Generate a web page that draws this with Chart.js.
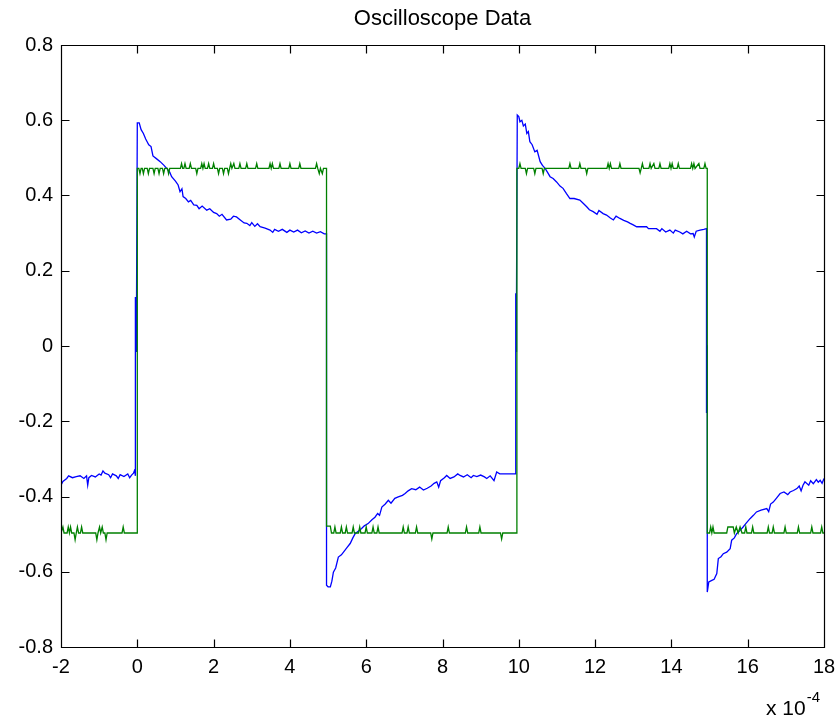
<!DOCTYPE html>
<html>
<head>
<meta charset="utf-8">
<script src="https://cdn.jsdelivr.net/npm/chart.js@4.4.1/dist/chart.umd.min.js"></script>
<style>
html,body{margin:0;padding:0;background:#fff;}
#wrap{width:839px;height:721px;position:relative;}
</style>
</head>
<body>
<div id="wrap"><canvas id="c"></canvas></div>
<script>
const chartTitle = 'Oscilloscope Data';
const xTicks = [-2, 0, 2, 4, 6, 8, 10, 12, 14, 16, 18];
const xTickLabels = ['-2', '0', '2', '4', '6', '8', '10', '12', '14', '16', '18'];
const yTicks = [-0.8, -0.6, -0.4, -0.2, 0, 0.2, 0.4, 0.6, 0.8];
const yTickLabels = ['-0.8', '-0.6', '-0.4', '-0.2', '0', '0.2', '0.4', '0.6', '0.8'];
const xMultiplierText = 'x 10';
const xMultiplierExponent = '-4';

// [time (x 10^-4), volts]
const blueTrace = [
  [-2.00,-0.370],[-1.95,-0.360],[-1.85,-0.352],[-1.80,-0.345],[-1.70,-0.350],[-1.60,-0.347],[-1.50,-0.345],
  [-1.40,-0.352],[-1.33,-0.345],[-1.30,-0.370],[-1.27,-0.350],[-1.20,-0.344],[-1.10,-0.348],[-1.00,-0.340],
  [-0.95,-0.343],[-0.90,-0.332],[-0.85,-0.338],[-0.75,-0.342],[-0.70,-0.350],[-0.65,-0.340],[-0.55,-0.345],
  [-0.50,-0.352],[-0.45,-0.342],[-0.35,-0.347],[-0.25,-0.340],[-0.20,-0.350],[-0.15,-0.343],[-0.10,-0.338],
  [-0.07,-0.330],[-0.05,-0.345],
  [-0.05,-0.016],[-0.05,0.130],[-0.02,-0.016],[-0.02,0.130],[0.00,0.593],
  [0.05,0.593],[0.10,0.575],[0.16,0.565],[0.22,0.550],[0.30,0.535],[0.36,0.530],[0.41,0.505],[0.50,0.498],
  [0.60,0.490],[0.70,0.480],[0.77,0.472],[0.85,0.462],[0.90,0.450],[1.00,0.438],[1.07,0.428],[1.12,0.410],
  [1.17,0.418],[1.20,0.397],[1.27,0.392],[1.34,0.383],[1.40,0.387],[1.48,0.375],[1.56,0.374],[1.62,0.365],
  [1.70,0.372],[1.82,0.361],[1.90,0.365],[2.00,0.355],[2.08,0.352],[2.15,0.345],[2.22,0.350],[2.34,0.335],
  [2.45,0.337],[2.52,0.345],[2.60,0.343],[2.70,0.335],[2.80,0.327],[2.87,0.326],[2.95,0.320],[3.00,0.328],
  [3.08,0.318],[3.15,0.325],[3.22,0.317],[3.35,0.313],[3.48,0.308],[3.55,0.302],[3.60,0.310],[3.70,0.305],
  [3.80,0.310],[3.92,0.302],[4.00,0.308],[4.10,0.303],[4.20,0.308],[4.30,0.301],[4.40,0.306],[4.50,0.300],
  [4.60,0.305],[4.70,0.300],[4.80,0.304],[4.90,0.298],
  [4.96,0.298],[4.96,-0.636],
  [5.00,-0.640],[5.06,-0.640],[5.10,-0.625],[5.14,-0.601],[5.20,-0.590],[5.27,-0.561],[5.35,-0.555],
  [5.44,-0.543],[5.50,-0.535],[5.58,-0.525],[5.65,-0.510],[5.71,-0.499],[5.80,-0.492],[5.88,-0.485],
  [5.95,-0.478],[6.05,-0.472],[6.15,-0.462],[6.23,-0.455],[6.30,-0.445],[6.35,-0.450],[6.41,-0.428],
  [6.50,-0.420],[6.58,-0.410],[6.65,-0.418],[6.75,-0.405],[6.84,-0.401],[6.95,-0.397],[7.02,-0.392],
  [7.10,-0.385],[7.19,-0.379],[7.30,-0.382],[7.40,-0.375],[7.50,-0.383],[7.60,-0.378],[7.70,-0.372],
  [7.78,-0.365],[7.85,-0.361],[7.90,-0.375],[7.95,-0.358],[8.05,-0.350],[8.11,-0.344],[8.20,-0.352],
  [8.30,-0.348],[8.40,-0.340],[8.46,-0.344],[8.55,-0.348],[8.65,-0.342],[8.75,-0.350],[8.81,-0.344],
  [8.90,-0.347],[9.00,-0.343],[9.10,-0.348],[9.16,-0.352],[9.25,-0.345],[9.35,-0.358],[9.42,-0.335],
  [9.50,-0.340],[9.60,-0.340],
  [9.92,-0.340],[9.92,-0.016],[9.92,0.140],[9.94,-0.016],[9.94,0.140],[9.96,0.614],
  [10.00,0.610],[10.03,0.596],[10.08,0.600],[10.12,0.585],[10.17,0.590],[10.21,0.565],[10.25,0.570],
  [10.29,0.543],[10.35,0.535],[10.42,0.516],[10.48,0.520],[10.56,0.490],[10.62,0.480],[10.69,0.472],
  [10.75,0.462],[10.82,0.450],[10.90,0.445],[10.99,0.436],[11.08,0.425],[11.16,0.419],[11.25,0.405],
  [11.34,0.392],[11.45,0.392],[11.60,0.388],[11.70,0.378],[11.78,0.370],[11.85,0.362],[11.95,0.357],
  [12.05,0.350],[12.10,0.360],[12.21,0.352],[12.30,0.348],[12.40,0.340],[12.48,0.335],[12.55,0.345],
  [12.65,0.339],[12.75,0.334],[12.85,0.330],[12.92,0.326],[13.00,0.322],[13.09,0.317],[13.35,0.317],
  [13.40,0.312],[13.61,0.312],[13.70,0.305],[13.75,0.312],[13.85,0.303],[13.96,0.308],[14.05,0.300],
  [14.10,0.308],[14.22,0.303],[14.30,0.298],[14.40,0.305],[14.50,0.298],[14.57,0.299],[14.60,0.290],
  [14.65,0.305],[14.75,0.308],[14.85,0.310],
  [14.92,0.312],[14.92,0.002],[14.92,-0.178],[14.94,0.002],[14.94,-0.178],[14.94,-0.654],
  [14.98,-0.627],[15.06,-0.623],[15.12,-0.620],[15.19,-0.605],[15.23,-0.565],[15.30,-0.560],[15.36,-0.552],
  [15.45,-0.548],[15.54,-0.539],[15.58,-0.516],[15.65,-0.510],[15.71,-0.499],[15.80,-0.490],[15.88,-0.481],
  [15.95,-0.472],[16.06,-0.459],[16.15,-0.450],[16.23,-0.441],[16.35,-0.436],[16.50,-0.432],[16.55,-0.440],
  [16.60,-0.420],[16.67,-0.415],[16.75,-0.405],[16.85,-0.392],[16.95,-0.388],[17.05,-0.395],[17.11,-0.388],
  [17.20,-0.384],[17.29,-0.379],[17.35,-0.372],[17.40,-0.385],[17.45,-0.370],[17.50,-0.361],[17.60,-0.370],
  [17.65,-0.358],[17.72,-0.366],[17.80,-0.355],[17.85,-0.362],[17.90,-0.357],[17.95,-0.365],[18.00,-0.352]
];

const greenTrace = [
  [-2.00,-0.497],[-1.98,-0.497],[-1.95,-0.481],[-1.92,-0.497],[-1.84,-0.497],[-1.81,-0.481],[-1.78,-0.497],
  [-1.75,-0.481],[-1.72,-0.497],[-1.66,-0.497],[-1.63,-0.515],[-1.60,-0.497],[-1.57,-0.481],[-1.54,-0.497],
  [-1.49,-0.497],[-1.46,-0.481],[-1.43,-0.497],[-1.09,-0.497],[-1.06,-0.515],[-1.03,-0.497],[-0.99,-0.481],
  [-0.96,-0.497],[-0.92,-0.481],[-0.89,-0.497],[-0.85,-0.497],[-0.82,-0.515],[-0.79,-0.497],[-0.40,-0.497],
  [-0.37,-0.481],[-0.34,-0.497],[0.00,-0.497],
  [0.00,0.472],
  [0.04,0.472],[0.07,0.458],[0.10,0.472],[0.13,0.472],[0.16,0.458],[0.19,0.472],[0.26,0.472],[0.29,0.458],
  [0.32,0.472],[0.41,0.472],[0.44,0.458],[0.47,0.472],[0.54,0.472],[0.57,0.458],[0.60,0.472],[0.66,0.472],
  [0.69,0.458],[0.72,0.472],[0.79,0.472],[0.82,0.458],[0.85,0.472],[1.13,0.472],[1.16,0.485],[1.19,0.472],
  [1.22,0.472],[1.25,0.485],[1.28,0.472],[1.36,0.472],[1.39,0.485],[1.42,0.472],[1.53,0.472],[1.56,0.458],
  [1.59,0.472],[1.66,0.472],[1.69,0.485],[1.72,0.472],[1.75,0.485],[1.78,0.472],[1.84,0.472],[1.87,0.485],
  [1.90,0.472],[1.97,0.472],[2.00,0.485],[2.03,0.472],[2.10,0.472],[2.13,0.458],[2.16,0.472],[2.23,0.472],
  [2.26,0.458],[2.29,0.472],[2.36,0.472],[2.39,0.458],[2.42,0.472],[2.45,0.485],[2.48,0.472],[2.53,0.485],
  [2.56,0.472],[2.66,0.472],[2.69,0.485],[2.72,0.472],[2.84,0.472],[2.87,0.485],[2.90,0.472],[3.10,0.472],
  [3.13,0.485],[3.16,0.472],[3.45,0.472],[3.48,0.485],[3.51,0.472],[3.54,0.485],[3.57,0.472],[3.71,0.472],
  [3.74,0.485],[3.77,0.472],[3.97,0.472],[4.00,0.485],[4.03,0.472],[4.23,0.472],[4.26,0.485],[4.29,0.472],
  [4.67,0.472],[4.70,0.485],[4.73,0.472],[4.77,0.458],[4.80,0.472],[4.85,0.458],[4.88,0.472],[4.96,0.472],
  [4.96,-0.479],
  [5.06,-0.479],[5.09,-0.497],[5.15,-0.497],[5.18,-0.481],[5.21,-0.497],[5.32,-0.497],[5.35,-0.481],
  [5.38,-0.497],[5.45,-0.497],[5.48,-0.481],[5.51,-0.497],[5.63,-0.497],[5.66,-0.481],[5.69,-0.497],
  [5.80,-0.497],[5.83,-0.481],[5.86,-0.497],[5.97,-0.497],[6.00,-0.481],[6.03,-0.497],[6.15,-0.497],
  [6.18,-0.481],[6.21,-0.497],[6.28,-0.497],[6.31,-0.481],[6.34,-0.497],[6.94,-0.497],[6.97,-0.481],
  [7.00,-0.497],[7.07,-0.497],[7.10,-0.481],[7.13,-0.497],[7.29,-0.497],[7.32,-0.481],[7.35,-0.497],
  [7.69,-0.497],[7.72,-0.513],[7.75,-0.497],[8.12,-0.497],[8.15,-0.481],[8.18,-0.497],[8.60,-0.497],
  [8.63,-0.481],[8.66,-0.497],[8.95,-0.497],[8.98,-0.481],[9.01,-0.497],[9.52,-0.497],[9.55,-0.513],
  [9.58,-0.497],[9.95,-0.497],
  [9.95,0.472],
  [10.00,0.472],[10.03,0.485],[10.06,0.472],[10.17,0.472],[10.20,0.458],[10.23,0.472],[10.39,0.472],
  [10.42,0.458],[10.45,0.472],[10.61,0.472],[10.64,0.458],[10.67,0.472],[11.31,0.472],[11.34,0.485],
  [11.37,0.472],[11.57,0.472],[11.60,0.485],[11.63,0.472],[11.75,0.472],[11.78,0.458],[11.81,0.472],
  [12.31,0.472],[12.34,0.485],[12.37,0.472],[12.40,0.485],[12.43,0.472],[12.62,0.472],[12.65,0.485],
  [12.68,0.472],[13.15,0.472],[13.18,0.460],[13.21,0.472],[13.24,0.485],[13.27,0.472],[13.41,0.472],
  [13.44,0.485],[13.47,0.472],[13.54,0.485],[13.57,0.472],[13.67,0.472],[13.70,0.485],[13.73,0.472],
  [13.93,0.472],[13.96,0.485],[13.99,0.472],[14.02,0.485],[14.05,0.472],[14.15,0.472],[14.18,0.485],
  [14.21,0.472],[14.50,0.472],[14.53,0.485],[14.56,0.472],[14.59,0.485],[14.62,0.472],[14.72,0.485],
  [14.75,0.472],[14.85,0.472],[14.88,0.485],[14.91,0.472],[14.94,0.472],
  [14.94,-0.497],
  [15.00,-0.497],[15.03,-0.481],[15.06,-0.497],[15.09,-0.481],[15.12,-0.497],[15.45,-0.497],[15.48,-0.481],
  [15.62,-0.481],[15.65,-0.497],[15.70,-0.481],[15.75,-0.497],[15.80,-0.481],[15.85,-0.497],[15.92,-0.497],
  [15.95,-0.481],[15.98,-0.497],[16.10,-0.497],[16.13,-0.481],[16.16,-0.497],[16.51,-0.497],[16.54,-0.481],
  [16.57,-0.497],[16.64,-0.497],[16.67,-0.481],[16.70,-0.497],[16.95,-0.497],[16.98,-0.481],[17.01,-0.497],
  [17.30,-0.497],[17.33,-0.481],[17.36,-0.497],[17.65,-0.497],[17.68,-0.481],[17.71,-0.497],[17.91,-0.497],
  [17.94,-0.481],[17.97,-0.497],[18.00,-0.497]
];

const FONT = '"Liberation Sans", Arial, Helvetica, sans-serif';

const boxPlugin = {
  id: 'matlabBox',
  afterDatasetsDraw(chart) {
    const {ctx, chartArea: a, scales} = chart;
    const x = scales.x, y = scales.y;
    const L = Math.round(a.left) + 0.5, R = Math.round(a.right) + 0.5;
    const T = Math.round(a.top) + 0.5, B = Math.round(a.bottom) + 0.5;
    const tl = 8;
    ctx.save();
    ctx.strokeStyle = '#000';
    ctx.lineWidth = 1.2;
    ctx.beginPath();
    ctx.rect(L, T, R - L, B - T);
    xTicks.forEach(v => {
      const px = Math.round(x.getPixelForValue(v)) + 0.5;
      ctx.moveTo(px, B); ctx.lineTo(px, B - tl);
      ctx.moveTo(px, T); ctx.lineTo(px, T + tl);
    });
    yTicks.forEach(v => {
      const py = Math.round(y.getPixelForValue(v)) + 0.5;
      ctx.moveTo(L, py); ctx.lineTo(L + tl, py);
      ctx.moveTo(R, py); ctx.lineTo(R - tl, py);
    });
    ctx.stroke();
    ctx.fillStyle = '#000';
    ctx.textBaseline = 'alphabetic';
    ctx.textAlign = 'left';
    ctx.font = '21px ' + FONT;
    const baseX = a.right - 58, baseY = a.bottom + 68;
    ctx.fillText(xMultiplierText, baseX, baseY);
    const w = ctx.measureText(xMultiplierText).width;
    ctx.font = '15px ' + FONT;
    ctx.fillText(xMultiplierExponent, baseX + w + 1, baseY - 13);
    ctx.restore();
  }
};

new Chart(document.getElementById('c'), {
  type: 'line',
  data: {
    datasets: [
      {
        label: 'Channel 2',
        data: greenTrace.map(p => ({x: p[0], y: p[1]})),
        borderColor: '#008000',
        borderWidth: 1.3,
        pointRadius: 0,
        tension: 0,
        fill: false
      },
      {
        label: 'Channel 1',
        data: blueTrace.map(p => ({x: p[0], y: p[1]})),
        borderColor: '#0000ff',
        borderWidth: 1.3,
        pointRadius: 0,
        tension: 0,
        fill: false
      }
    ]
  },
  options: {
    responsive: true,
    maintainAspectRatio: false,
    animation: false,
    layout: {padding: {top: 0, right: 15, bottom: 0, left: 0}},
    plugins: {
      legend: {display: false},
      tooltip: {enabled: false},
      title: {
        display: true,
        text: chartTitle,
        color: '#000',
        fullSize: false,
        font: {family: FONT, size: 22, weight: 'normal'},
        padding: {top: 6, bottom: 12.6}
      }
    },
    scales: {
      x: {
        type: 'linear',
        min: -2, max: 18,
        grid: {display: false, drawTicks: false},
        border: {display: false},
        afterBuildTicks: s => { s.ticks = xTicks.map(v => ({value: v})); },
        afterFit: s => { s.height = 74; s.paddingLeft = 0; s.paddingRight = 0; },
        ticks: {
          color: '#000',
          font: {family: FONT, size: 20},
          padding: 8,
          maxRotation: 0,
          autoSkip: false,
          callback: (v, i) => xTickLabels[i]
        }
      },
      y: {
        type: 'linear',
        min: -0.8, max: 0.8,
        grid: {display: false, drawTicks: false},
        border: {display: false},
        afterBuildTicks: s => { s.ticks = yTicks.map(v => ({value: v})); },
        afterFit: s => { s.width = 61; s.paddingTop = 0; s.paddingBottom = 0; },
        ticks: {
          color: '#000',
          font: {family: FONT, size: 20},
          padding: 8,
          autoSkip: false,
          callback: (v, i) => yTickLabels[i]
        }
      }
    }
  },
  plugins: [boxPlugin]
});
</script>
</body>
</html>
